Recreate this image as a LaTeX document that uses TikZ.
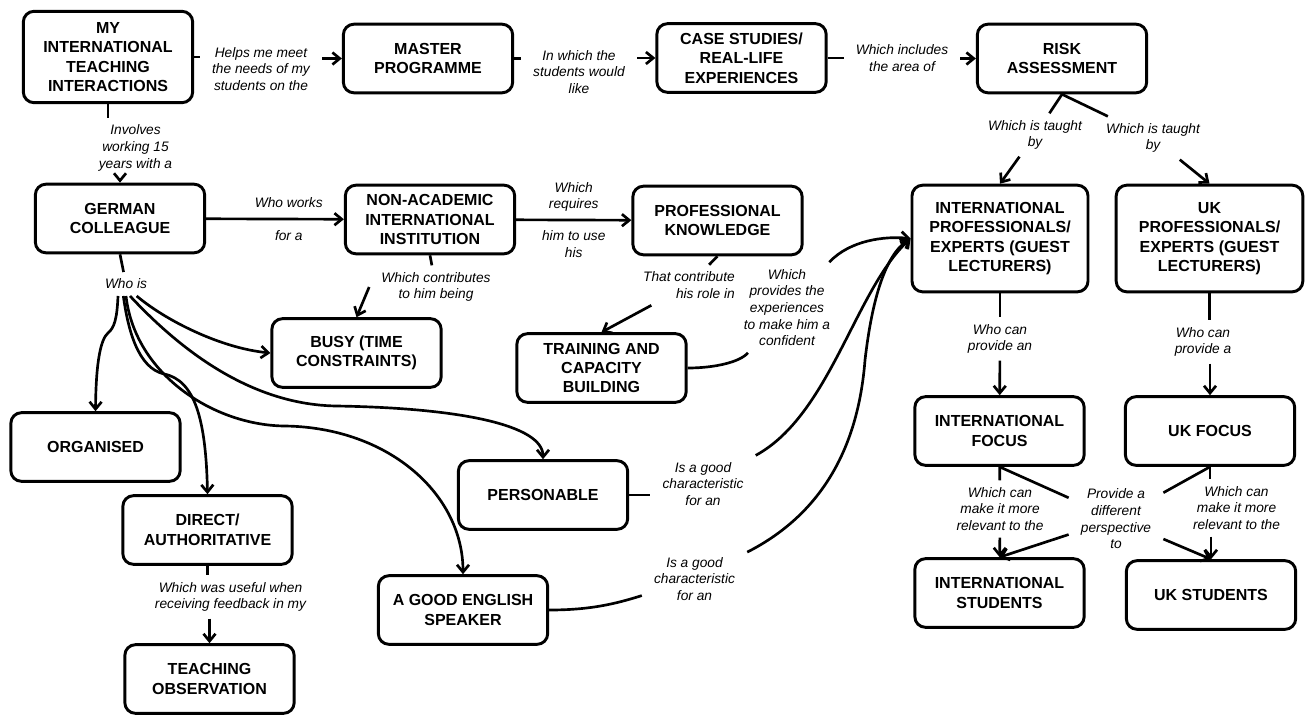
\documentclass[tikz,border=0pt]{standalone}
\usepackage{fontspec}
\setmainfont{Liberation Sans}
\usetikzlibrary{arrows.meta,calc}

\begin{document}
\begin{tikzpicture}[x=0.75pt,y=-0.75pt,>={Straight Barb[length=5.5pt,width=9pt]},
  concept/.style={draw,rectangle,rounded corners=8pt,line width=2.2pt,
    minimum width=127pt,minimum height=51.5pt,align=center,inner sep=3pt,
    font=\bfseries\fontsize{12}{14.6}\selectfont},
  phrase/.style={align=center,inner xsep=9pt,inner ysep=5pt,
    font=\itshape\fontsize{10.3}{12.5}\selectfont}]

\useasboundingbox (0,0) rectangle (1308,715);

% concepts
\node[concept,minimum height=68.5pt] (myint) at (108,57) {MY\\INTERNATIONAL\\TEACHING\\INTERACTIONS};
\node[concept] (master) at (428,58.5) {MASTER\\PROGRAMME};
\node[concept] (cases) at (741.5,58) {CASE STUDIES/\\REAL-LIFE\\EXPERIENCES};
\node[concept] (risk) at (1062,58.5) {RISK\\ASSESSMENT};
\node[concept] (german) at (120,218.5) {GERMAN\\COLLEAGUE};
\node[concept] (nonacad) at (430,219.5) {NON-ACADEMIC\\INTERNATIONAL\\INSTITUTION};
\node[concept] (profknow) at (717.5,220.5) {PROFESSIONAL\\KNOWLEDGE};
\node[concept,minimum width=132pt,minimum height=80pt] (intexp) at (1000,238.5) {INTERNATIONAL\\PROFESSIONALS/\\EXPERTS (GUEST\\LECTURERS)};
\node[concept,minimum width=140pt,minimum height=80pt] (ukexp) at (1209.5,238.5) {UK\\PROFESSIONALS/\\EXPERTS (GUEST\\LECTURERS)};
\node[concept] (busy) at (356.5,353) {BUSY (TIME\\CONSTRAINTS)};
\node[concept] (training) at (601.5,368) {TRAINING AND\\CAPACITY\\BUILDING};
\node[concept] (organised) at (95.5,447) {ORGANISED};
\node[concept] (personable) at (543,495) {PERSONABLE};
\node[concept] (direct) at (207.5,530) {DIRECT/\\AUTHORITATIVE};
\node[concept] (english) at (463,610) {A GOOD ENGLISH\\SPEAKER};
\node[concept] (teachobs) at (209.5,679) {TEACHING\\OBSERVATION};
\node[concept] (intfocus) at (999.5,431) {INTERNATIONAL\\FOCUS};
\node[concept] (ukfocus) at (1210,431) {UK FOCUS};
\node[concept] (intstud) at (999.5,593) {INTERNATIONAL\\STUDENTS};
\node[concept] (ukstud) at (1211,595) {UK STUDENTS};

% linking phrases
\node[phrase] (helps) at (261,69) {Helps me meet\\the needs of my\\students on the};
\node[phrase] (inwhich) at (579,72) {In which the\\students would\\like};
\node[phrase] (includes) at (902,58) {Which includes\\the area of};
\node[phrase] (involves) at (135.5,148) {Involves\\working 15\\years with a};
\node[phrase] (whois) at (126,284) {Who is};
\node[phrase] (contributes) at (436,287) {Which contributes\\to him being};
\node[phrase,align=right] (rolein) at (689,285) {That contribute\\his role in};
\node[phrase] (provides) at (787,307.5) {Which\\provides the\\experiences\\to make him a\\confident};
\node[phrase] (goodcharA) at (703,484) {Is a good\\characteristic\\for an};
\node[phrase] (goodcharB) at (694.5,579) {Is a good\\characteristic\\for an};
\node[phrase] (taughtA) at (1035,135) {Which is taught\\by};
\node[phrase] (taughtB) at (1153,138) {Which is taught\\by};
\node[phrase] (provideAn) at (1000,339) {Who can\\provide an};
\node[phrase] (provideA) at (1203,342) {Who can\\provide a};
\node[phrase] (relevantA) at (1000,509) {Which can\\make it more\\relevant to the};
\node[phrase] (relevantB) at (1236.5,508) {Which can\\make it more\\relevant to the};
\node[phrase] (perspective) at (1116,519) {Provide a\\different\\perspective\\to};
\node[phrase] (useful) at (230.5,597) {Which was useful when\\receiving feedback in my};

\begin{scope}[line width=2pt]
  \path (myint.east) edge (myint.east -| helps.west)
        (helps.east |- master.west) edge[->] (master.west)
        (master.east) edge (master.east -| inwhich.west)
        (inwhich.east |- cases.west) edge[->] (cases.west)
        (cases.east) edge (cases.east -| includes.west)
        (includes.east |- risk.west) edge[->] (risk.west)
        (myint.south) edge (myint.south |- involves.north)
        (involves.south -| german.north) edge[->] (german.north)
        (german) edge[->] node[phrase,pos=0.6] {Who works\\[12pt]for a} (nonacad)
        (nonacad) edge[->] node[phrase] {Which\\requires\\[11.5pt]him to use\\his} (profknow)
        (german.south) edge (whois)
        (nonacad.south) edge (contributes)
        (contributes.west) edge[->] (busy.north)
        (profknow.south) edge (rolein)
        (rolein) edge[->] (training.north)
        (personable.east) edge (personable.east -| goodcharA.west)
        (risk.south) edge (taughtA)
        (taughtA) edge[->] (intexp.north)
        (risk.south) edge (taughtB)
        (taughtB) edge[->] (ukexp.north)
        (intexp) edge (provideAn)
        (provideAn) edge[->] (intfocus)
        (ukexp.south) edge (ukexp.south |- provideA.north)
        (provideA.south -| ukfocus.north) edge[->] (ukfocus.north)
        (intfocus) edge (relevantA)
        (relevantA) edge[->] (intstud)
        (ukfocus.south) edge (ukfocus.south |- relevantB.north)
        (relevantB.south -| ukstud.north) edge[->] (ukstud.north)
        (intfocus.south) edge (perspective)
        (ukfocus.south) edge (perspective)
        (perspective) edge[->] (intstud.north)
        (perspective) edge[->] (ukstud.north)
        (direct.south) edge (direct.south |- useful.north)
        (useful.south -| teachobs.north) edge[->] (teachobs.north);

  % who is ...
  \draw[->] ([xshift=-6pt]whois.south) .. controls (117,320) and (114,328) .. (108,333)
            .. controls (101,339) and (96,360) .. (organised.north);
  \draw[->] ([xshift=-2pt]whois.south) .. controls (128,330) and (138,368) .. (164,374)
            .. controls (195,380) and (206,420) .. (direct.north);
  \draw[->] (whois.south) .. controls (135,375) and (215,426) .. (286,426)
            .. controls (390,428) and (463,495) .. (english.north);
  \draw[->] ([xshift=3pt]whois.south) .. controls (185,355) and (255,405) .. (337,406)
            .. controls (460,408) and (543,425) .. (personable.north);
  \draw[->] ([xshift=8pt]whois.south) .. controls (165,320) and (220,348) .. (busy.west);

  % into the international experts
  \draw (training.east) .. controls (715,368) and (740,362) .. (provides);
  \draw[->] (provides) .. controls (850,240) and (885,236) .. (intexp.west);
  \draw[->] (goodcharA) .. controls (830,415) and (855,290) .. (intexp.west);
  \draw (english.east) .. controls (590,610) and (615,604) .. (goodcharB);
  \draw[->] (goodcharB) .. controls (820,515) and (858,450) .. (865,360)
            .. controls (872,300) and (885,255) .. (intexp.west);
\end{scope}
\end{tikzpicture}
\end{document}
